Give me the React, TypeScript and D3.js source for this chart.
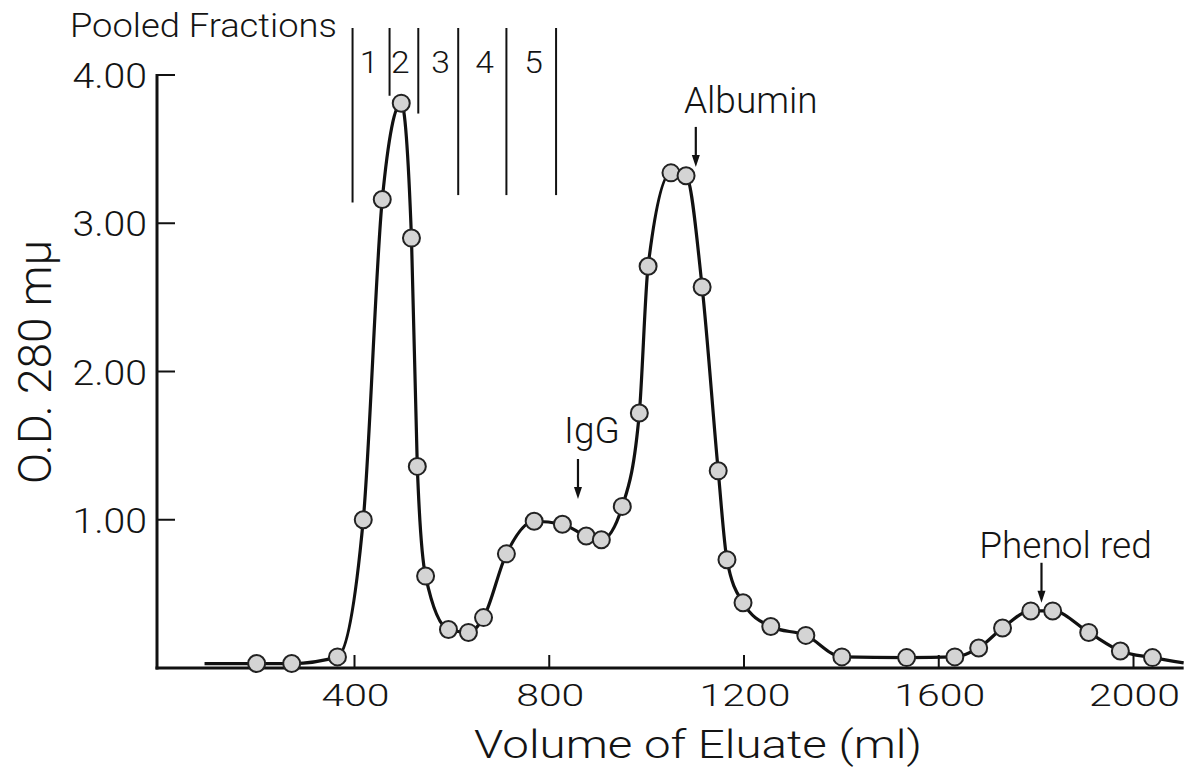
import React from "react";
import * as d3 from "d3";

// Elution volume (ml) of each measured fraction
const volume = [199, 271, 365, 418, 457, 496, 517, 529, 546, 593, 634, 665, 712, 769, 827, 876, 907, 950, 985, 1003, 1050, 1081, 1114, 1147, 1165, 1198, 1255, 1327, 1401, 1534, 1633, 1682, 1731, 1789, 1834, 1908, 1973, 2039];
// Optical density at 280 mμ
const od = [0.03, 0.03, 0.075, 1.0, 3.16, 3.81, 2.9, 1.36, 0.62, 0.26, 0.24, 0.34, 0.77, 0.99, 0.97, 0.89, 0.865, 1.09, 1.72, 2.71, 3.34, 3.32, 2.57, 1.33, 0.73, 0.44, 0.28, 0.22, 0.075, 0.07, 0.075, 0.135, 0.27, 0.385, 0.385, 0.24, 0.115, 0.07];
// curve extends beyond first / last measured points
const curveStart = { v: 92, od: 0.03 };
const curveEnd = { v: 2103, od: 0.035 };

const xTicks = [400, 800, 1200, 1600, 2000];
const yTicks = [1, 2, 3, 4];
const yTickLabels = ["1.00", "2.00", "3.00", "4.00"];

// Pooled fraction boundaries (ml) and how low each line reaches (OD)
const fractionBounds = [396, 472, 531, 613, 712, 814];
const fractionBoundBottom = [3.14, 3.86, 3.74, 3.19, 3.19, 3.19];
const fractionLabels = ["1", "2", "3", "4", "5"];
const fractionLabelPos = [430, 494, 577, 667, 768];

const annotations = [
  { label: "IgG", v: 859, tip: 1.14, textDx: 14, textDy: 56 },
  { label: "Albumin", v: 1101, tip: 3.38, textDx: 55, textDy: 54 },
  { label: "Phenol red", v: 1811, tip: 0.44, textDx: 24, textDy: 45 },
];

const FONT = "Roboto, 'Liberation Sans', sans-serif";

function T(props: {
  x: number;
  y: number;
  sx?: number;
  anchor?: "start" | "middle" | "end";
  size: number;
  rotate?: number;
  children: React.ReactNode;
}) {
  const { x, y, sx = 1, anchor = "start", size, rotate = 0, children } = props;
  return (
    <text
      transform={`translate(${x},${y}) rotate(${rotate}) scale(${sx},1)`}
      textAnchor={anchor}
      fontFamily={FONT}
      fontWeight={300}
      fontSize={size}
      fill="#141414"
    >
      {children}
    </text>
  );
}

export default function App() {
  const W = 1198;
  const H = 769;
  const x = d3.scaleLinear().domain([0, 2100]).range([159.75, 1182.2]);
  const y = d3.scaleLinear().domain([0, 4]).range([668, 75]);
  const axisX = 157;

  const pts = volume.map((v, i) => ({ v, od: od[i] }));
  const curvePts = [curveStart, ...pts, curveEnd];
  const line = d3
    .line<{ v: number; od: number }>()
    .x((d) => x(d.v))
    .y((d) => y(d.od))
    .curve(d3.curveMonotoneX);

  const fracTop = 28;

  return (
    <svg width={W} height={H} style={{ display: "block", position: "absolute", left: 0, top: 0, background: "#fff" }}>
      <rect width={W} height={H} fill="#fff" />
      {/* axes */}
      <line x1={axisX} x2={axisX} y1={y(4) - 1} y2={y(0) + 1.5} stroke="#111" strokeWidth={3} />
      <line x1={axisX - 1.5} x2={x(2103)} y1={y(0)} y2={y(0)} stroke="#111" strokeWidth={3} />
      {yTicks.map((t, i) => (
        <g key={t}>
          <line x1={axisX} x2={axisX + 18} y1={y(t)} y2={y(t)} stroke="#111" strokeWidth={2} />
          <T x={147} y={y(t) + 13} anchor="end" size={35} sx={1.12}>
            {yTickLabels[i]}
          </T>
        </g>
      ))}
      {xTicks.map((t) => (
        <g key={t}>
          <line x1={x(t)} x2={x(t)} y1={y(0)} y2={y(0) - 13} stroke="#111" strokeWidth={2} />
          <T x={x(t) + 1} y={706} anchor="middle" size={32} sx={1.28}>
            {t}
          </T>
        </g>
      ))}
      <T x={698} y={758} anchor="middle" size={38} sx={1.25}>
        Volume of Eluate (ml)
      </T>
      <T x={51} y={362} anchor="middle" size={46} rotate={-90}>
        O.D. 280 mμ
      </T>

      {/* pooled fractions */}
      <T x={70} y={37} size={33} sx={1.1}>
        Pooled Fractions
      </T>
      {fractionBounds.map((v, i) => (
        <line key={i} x1={x(v)} x2={x(v)} y1={fracTop} y2={y(fractionBoundBottom[i])} stroke="#111" strokeWidth={2} />
      ))}
      {fractionLabels.map((l, i) => (
        <T key={l} x={x(fractionLabelPos[i])} y={73} anchor="middle" size={32} sx={1.05}>
          {l}
        </T>
      ))}

      {/* curve */}
      <path d={line(curvePts) ?? ""} fill="none" stroke="#111" strokeWidth={3.2} strokeLinejoin="round" />
      {pts.map((p, i) => (
        <circle key={i} cx={x(p.v)} cy={y(p.od)} r={8.5} fill="#d4d4d4" stroke="#222" strokeWidth={2} />
      ))}

      {/* annotations */}
      {annotations.map((a) => {
        const ax = x(a.v);
        const tipY = y(a.tip);
        return (
          <g key={a.label}>
            <line x1={ax} x2={ax} y1={tipY - 40} y2={tipY - 8} stroke="#111" strokeWidth={2.2} />
            <path d={`M${ax - 4},${tipY - 12} L${ax + 4},${tipY - 12} L${ax},${tipY} Z`} fill="#111" />
            <T x={ax + a.textDx} y={tipY - a.textDy} anchor="middle" size={37}>
              {a.label}
            </T>
          </g>
        );
      })}
    </svg>
  );
}
